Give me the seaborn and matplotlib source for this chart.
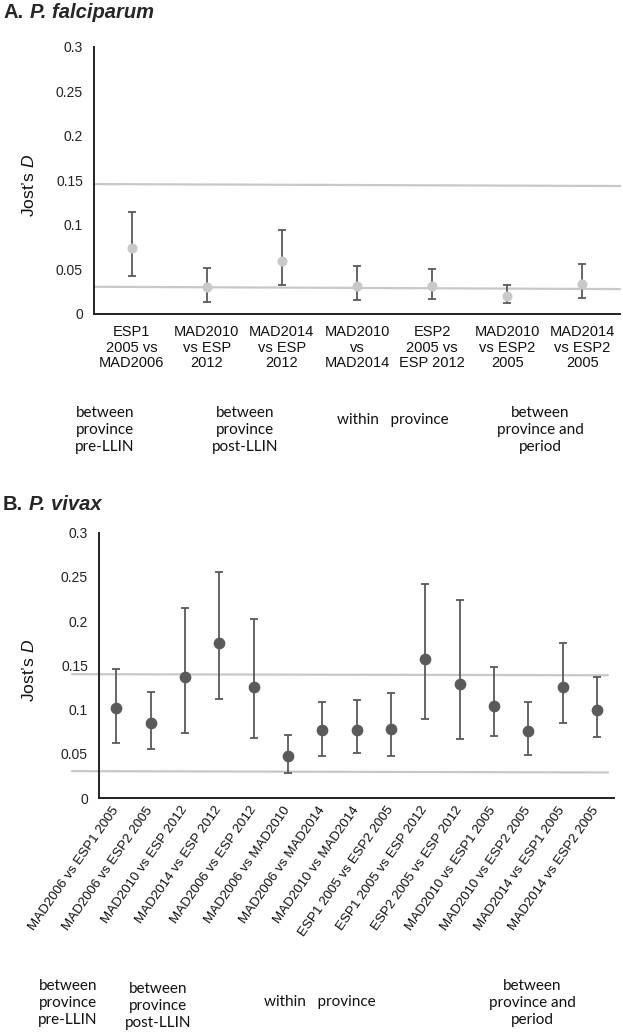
import numpy as np
import matplotlib
matplotlib.use("Agg")
import matplotlib.pyplot as plt
import seaborn as sns

# ---------------- data ----------------
cats_A = ["ESP1\n2005 vs\nMAD2006", "MAD2010\nvs ESP\n2012", "MAD2014\nvs ESP\n2012",
          "MAD2010\nvs\nMAD2014", "ESP2\n2005 vs\nESP 2012", "MAD2010\nvs ESP2\n2005",
          "MAD2014\nvs ESP2\n2005"]
val_A = np.array([0.074, 0.030, 0.059, 0.032, 0.031, 0.0205, 0.034])
low_A = np.array([0.043, 0.014, 0.0325, 0.016, 0.017, 0.012, 0.0176])
high_A = np.array([0.115, 0.052, 0.094, 0.054, 0.050, 0.0325, 0.056])
ref_upper_A = [0.146, 0.1438]
ref_lower_A = [0.0306, 0.028]

cats_B = ["MAD2006 vs ESP1 2005", "MAD2006 vs ESP2 2005", "MAD2010 vs ESP 2012",
          "MAD2014 vs ESP 2012", "MAD2006 vs ESP 2012", "MAD2006 vs MAD2010",
          "MAD2006 vs MAD2014", "MAD2010 vs MAD2014", "ESP1 2005 vs ESP2 2005",
          "ESP1 2005 vs ESP 2012", "ESP2 2005 vs ESP 2012", "MAD2010 vs ESP1 2005",
          "MAD2010 vs ESP2 2005", "MAD2014 vs ESP1 2005", "MAD2014 vs ESP2 2005"]
val_B = np.array([0.1016, 0.0844, 0.1365, 0.1755, 0.125, 0.047, 0.0765, 0.077, 0.078,
                  0.157, 0.129, 0.104, 0.0758, 0.1257, 0.100])
low_B = np.array([0.0626, 0.055, 0.073, 0.112, 0.0675, 0.0285, 0.048, 0.051, 0.047,
                  0.089, 0.0668, 0.070, 0.0488, 0.0848, 0.0686])
high_B = np.array([0.146, 0.120, 0.215, 0.256, 0.202, 0.071, 0.109, 0.111, 0.119,
                   0.242, 0.2235, 0.148, 0.108, 0.1755, 0.137])
ref_upper_B = [0.140, 0.1388]
ref_lower_B = [0.0304, 0.0289]

yticks = [0, 0.05, 0.1, 0.15, 0.2, 0.25, 0.3]
ytick_labels = ["0", "0.05", "0.1", "0.15", "0.2", "0.25", "0.3"]

groups_A = ["between\nprovince\npre-LLIN", "between\nprovince\npost-LLIN",
            "within   province", "between\nprovince and\nperiod"]
groups_B = ["between\nprovince\npre-LLIN", "between\nprovince\npost-LLIN",
            "within   province", "between\nprovince and\nperiod"]

# ---------------- style ----------------
sns.set_theme(style="white")
plt.rcParams["font.family"] = ["Liberation Sans", "DejaVu Sans"]
plt.rcParams["mathtext.fontset"] = "custom"
plt.rcParams["mathtext.rm"] = "Liberation Sans"
plt.rcParams["mathtext.it"] = "Liberation Sans:italic"

W, H = 623, 1035
fig = plt.figure(figsize=(W / 100, H / 100), dpi=100)
fig.patch.set_facecolor("white")

def px_axes(l, t, r, b):
    return fig.add_axes([l / W, 1 - b / H, (r - l) / W, (b - t) / H])

axA = px_axes(94, 47, 620, 314)
axB = px_axes(99, 532.7, 614, 798)

REF = "#c8c8c8"
BAR = "#595959"

def draw(ax, cats, val, low, high, mcolor, msize, ref_u, ref_l, x_left, x_right):
    n = len(cats)
    pos = np.arange(n)
    ax.errorbar(pos, val, yerr=[val - low, high - val], fmt="none", ecolor=BAR,
                elinewidth=1.3, capsize=2.6, capthick=1.3, zorder=2)
    sns.pointplot(x=cats, y=val, order=cats, errorbar=None, linestyle="none",
                  color=mcolor, markers="o", markersize=msize, ax=ax, zorder=3)
    ax.set_xlim(-0.5, n - 0.5)
    for r in (ref_u, ref_l):
        ax.plot([x_left, x_right], r, color=REF, lw=1.6, zorder=1, clip_on=False)
    ax.set_ylim(0, 0.3)
    ax.set_yticks(yticks)
    ax.set_yticklabels(ytick_labels)
    ax.tick_params(axis="y", length=0, pad=8, labelsize=10, colors="#222222")
    ax.tick_params(axis="x", length=0)
    for s in ("top", "right"):
        ax.spines[s].set_visible(False)
    for s in ("left", "bottom"):
        ax.spines[s].set_color("#222222")
        ax.spines[s].set_linewidth(1.4)
    ax.set_ylabel("Jost\u2019s $\\mathit{D}$", fontsize=12.5, color="#111111")
    ax.set_xlabel("")
    ax.set_facecolor("white")
    ax.grid(False)

draw(axA, cats_A, val_A, low_A, high_A, "#c9c9c9", 5.2, ref_upper_A, ref_lower_A,
     -0.5, len(cats_A) - 0.5)
axA.tick_params(axis="x", pad=8, labelsize=10.5, labelcolor="#111111")
axA.set_xticks(np.arange(len(cats_A)))
axA.set_xticklabels(cats_A, linespacing=1.15, ha="center", va="top")
axA.yaxis.set_label_coords(-(94 - 37) / 526, 0.48)

binB = (614 - 99) / len(cats_B)
draw(axB, cats_B, val_B, low_B, high_B, "#5a5a5a", 6.4, ref_upper_B, ref_lower_B,
     -0.5 - (99 - 72) / binB, len(cats_B) - 0.5 - 6 / binB)
axB.set_xticks(np.arange(len(cats_B)))
axB.set_xticklabels(cats_B, rotation=55, ha="right", va="center",
                    rotation_mode="anchor", fontsize=9.6, color="#111111")
axB.tick_params(axis="x", pad=7)
axB.yaxis.set_label_coords(-(99 - 37) / 515, 0.48)

# titles
fig.text(3 / W, 1 - 13 / H, "A.", fontsize=14.5, fontweight="bold", va="center")
fig.text(30 / W, 1 - 13 / H, "P. falciparum", fontsize=14.5, fontweight="bold",
         style="italic", va="center")
fig.text(3 / W, 1 - 505 / H, "B.", fontsize=14.5, fontweight="bold", va="center")
fig.text(29 / W, 1 - 505 / H, "P. vivax", fontsize=14.5, fontweight="bold",
         style="italic", va="center")

# group labels
gfont = ["Lato", "DejaVu Sans"]
for txt, x, y in zip(groups_A, [105, 245, 393, 540], [430, 430, 420, 430]):
    fig.text(x / W, 1 - y / H, txt, ha="center", va="center", fontsize=11,
             family=gfont, linespacing=1.3, color="#111111")
for txt, x, y in zip(groups_B, [68, 158, 320, 532], [1003, 1006, 1002, 1003]):
    fig.text(x / W, 1 - y / H, txt, ha="center", va="center", fontsize=11,
             family=gfont, linespacing=1.3, color="#111111")

fig.savefig("out.png", dpi=100, facecolor="white")
